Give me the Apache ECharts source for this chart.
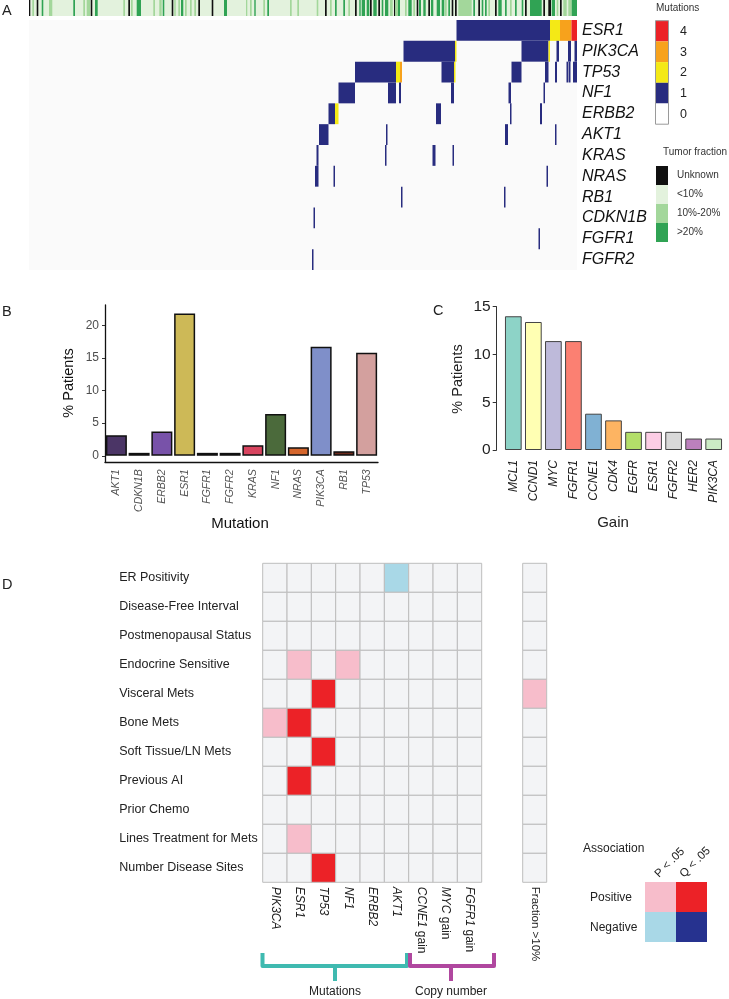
<!DOCTYPE html>
<html><head><meta charset="utf-8">
<script src="https://cdn.jsdelivr.net/npm/echarts/dist/echarts.min.js"></script>
<style>html,body{margin:0;padding:0;background:#fff}#c{width:729px;height:999px}</style>
</head><body><div id="c"></div><script>
// ---------- DATA ----------
// Panel A: oncoprint (column positions across the ordered patient strip, 0..548)
const oncoGenes = ['ESR1','PIK3CA','TP53','NF1','ERBB2','AKT1','KRAS','NRAS','RB1','CDKN1B','FGFR1','FGFR2'];
const colSpan = 548;
// [start, end, number of mutations]
const segESR1   = [[427.5,521,1],[521,531,2],[531,542.5,3],[542.5,548,4]];
const segPIK3CA = [[374.5,426,1],[426,427.5,2],[492.5,519.5,1],[519.5,521,2],[527.5,530,1],[539,542,1],[545.5,548,1]];
const segTP53   = [[326,367,1],[367,371,2],[371,373,3],[412.5,425,1],[425,426.5,2],[482.5,492.5,1],[516,519.5,1],[526,528,1],[537.5,539.5,1],[540,541.5,1],[544,548,1]];
const segNF1    = [[309.5,326,1],[359,367,1],[370,372,1],[422,425,1],[479.5,482,1],[514.5,516,1]];
const segERBB2  = [[299.5,306,1],[306,309.5,2],[407,412,1],[481,482.5,1],[511,513,1]];
const segAKT1   = [[290,299.5,1],[357,358.5,1],[476,479,1],[526,527.5,1]];
const segKRAS   = [[287.5,289.5,1],[356,357.5,1],[403.5,406.5,1],[423.5,425,1]];
const segNRAS   = [[286,289.5,1],[304.5,306,1],[517.5,519,1]];
const segRB1    = [[372,373.5,1],[475,476.5,1]];
const segCDKN1B = [[284.5,286,1]];
const segFGFR1  = [[509.5,511,1]];
const segFGFR2  = [[283,284.5,1]];
const oncoSegs = [segESR1,segPIK3CA,segTP53,segNF1,segERBB2,segAKT1,segKRAS,segNRAS,segRB1,segCDKN1B,segFGFR1,segFGFR2];
const mutLegend = ['4','3','2','1','0'];

// tumour fraction strip (background = <10%)
const tfUnknown = [[0,1.3],[7.7,9.3],[61.7,63.3],[99.3,101],[142.7,144.3],[169.3,171],[182.7,184.3],[296,297.7],[326,327.7],[341,342.7],[349.3,351],[365,366.3],[387.7,389.3],[399.3,401],[422.7,424.3],[426,427.7],[449.3,451],[466,467.7],[496,497.7],[514.3,516],[519.3,522],[531,532.7]];
const tfMid = [[3.3,5],[20,23.3],[54.3,56],[57.7,61],[94.3,96],[102,103.7],[124.3,126],[130.3,132.7],[145.3,146.7],[149.3,151],[156,157.7],[161,162.7],[165.3,167],[217,218.3],[221,222.7],[234.3,236],[261,262.7],[268.3,270],[287.7,289.3],[301,302.7],[319.3,321],[361,363.7],[366.3,369],[376,377.7],[384.3,386],[416,417.7],[429.3,442.7],[459.3,461],[481,482.7],[527.7,529.3],[534.3,537.7],[539.3,542.7]];
const tfHigh = [[12.7,14.3],[44.3,46],[66,68.7],[107.7,112],[133.7,135.3],[152,154.3],[195,198],[225.3,226.7],[238.3,240],[306,307.7],[314.3,316],[330.3,331.7],[332.7,336],[337.7,340.3],[344.3,347.7],[352.7,354.3],[356,359.3],[369,371],[379.3,382.7],[390,392],[394.3,396.7],[402,404.3],[407.7,411],[412.7,415.3],[419.3,421],[444.3,446],[452.7,454.3],[456,457.7],[469.3,472.7],[476,477.7],[486,487.7],[492.7,494.3],[501,512.7],[522.7,526],[542.7,548]];
const tfLegend = ['Unknown','<10%','10%-20%','>20%'];

// Panel B
const mutGenes = ['AKT1','CDKN1B','ERBB2','ESR1','FGFR1','FGFR2','KRAS','NF1','NRAS','PIK3CA','RB1','TP53'];
const mutPct   = [3.15,0.45,3.7,21.8,0.45,0.45,1.6,6.4,1.3,16.7,0.7,15.8];
const mutTicks = [0,5,10,15,20];

// Panel C
const gainGenes = ['MCL1','CCND1','MYC','FGFR1','CCNE1','CDK4','EGFR','ESR1','FGFR2','HER2','PIK3CA'];
const gainPct   = [14.0,13.4,11.4,11.4,3.8,3.1,1.9,1.9,1.9,1.2,1.2];

// Panel D  (0 none, 1 positive P<.05, 2 positive Q<.05, -1 negative P<.05, -2 negative Q<.05)
const clinVars = ['ER Positivity','Disease-Free Interval','Postmenopausal Status','Endocrine Sensitive','Visceral Mets','Bone Mets','Soft Tissue/LN Mets','Previous AI','Prior Chemo','Lines Treatment for Mets','Number Disease Sites'];
const assocCols = ['PIK3CA','ESR1','TP53','NF1','ERBB2','AKT1','CCNE1 gain','MYC gain','FGFR1 gain'];
const assocRows = [
  [0,0,0,0,0,-1,0,0,0],
  [0,0,0,0,0,0,0,0,0],
  [0,0,0,0,0,0,0,0,0],
  [0,1,0,1,0,0,0,0,0],
  [0,0,2,0,0,0,0,0,0],
  [1,2,0,0,0,0,0,0,0],
  [0,0,2,0,0,0,0,0,0],
  [0,2,0,0,0,0,0,0,0],
  [0,0,0,0,0,0,0,0,0],
  [0,1,0,0,0,0,0,0,0],
  [0,0,2,0,0,0,0,0,0]
];
const fracCol = ['Fraction >10%'];
const fracAssoc = [0,0,0,0,1,0,0,0,0,0,0];

// ---------- STYLE ----------
const FONT = "'Liberation Sans', Arial, sans-serif";
const mutColors = {0:'#fafafa',1:'#282c7f',2:'#f4e916',3:'#f7a21c',4:'#ec2227'};
const tfColors = {0:'#101010',1:'#e3f2dd',2:'#a3d79b',3:'#30a354'};
const mutBarColors = ['#4b3566','#4f7f3a','#7852a9','#cdb957','#8c2a7c','#3b8a7b','#d8445f','#4b6a3b','#d5662c','#7f8fc9','#6b2a1c','#d3a09e'];
const gainBarColors = ['#8dd3c7','#ffffb3','#bebada','#fb8072','#80b1d3','#fdb462','#b3de69','#fccde5','#d9d9d9','#bc80bd','#ccebc5'];
const assocColors = {0:'#f3f4f6',1:'#f7bdcb',2:'#ec2227','-1':'#a9d8e7','-2':'#26328f'};

// ---------- BUILD ----------
const oncoData = [];
oncoSegs.forEach((segs, gi) => segs.forEach(s => oncoData.push([s[0], s[1], gi, s[2]])));
const tfData = [];
tfUnknown.forEach(s => tfData.push([s[0], s[1], 0, 0]));
tfMid.forEach(s => tfData.push([s[0], s[1], 0, 2]));
tfHigh.forEach(s => tfData.push([s[0], s[1], 0, 3]));
const assocData = [];
assocRows.forEach((row, ri) => row.forEach((v, ci) => assocData.push([ci, ri, v])));
const fracData = fracAssoc.map((v, ri) => [0, ri, v]);

function segRender(colorMap) {
  return function (params, api) {
    const yv = api.value(2);
    const a = api.coord([api.value(0), yv]);
    const b = api.coord([api.value(1), yv]);
    const h = api.size([0, 1])[1];
    return {type:'rect', shape:{x:a[0], y:a[1]-h/2, width:b[0]-a[0], height:h},
      style:{fill: colorMap[api.value(3)]}};
  };
}
function cellRender(params, api) {
  const c = api.coord([api.value(0), api.value(1)]);
  const s = api.size([1, 1]);
  return {type:'rect', shape:{x:c[0]-s[0]/2, y:c[1]-s[1]/2, width:s[0], height:s[1]},
    style:{fill: assocColors[api.value(2)], stroke:'#bdbdbd', lineWidth:1}};
}
function geneFmt(v) {
  const p = v.split(' ');
  return p.length > 1 ? '{i|' + p[0] + '} ' + p.slice(1).join(' ') : '{i|' + v + '}';
}

const hiddenVal = (gi) => ({type:'value', gridIndex:gi, min:0, max:colSpan, show:false});
const grids = [
  {left:29, top:20, width:548, height:250, show:true, backgroundColor:'#fafafa', borderWidth:0},
  {left:29, top:0, width:548, height:16, show:true, backgroundColor:tfColors[1], borderWidth:0},
  {left:105, top:305, width:273, height:157.3},
  {left:503.3, top:306.7, width:220.4, height:143.3},
  {left:262.7, top:563.3, width:219, height:319},
  {left:522.7, top:563.3, width:24, height:319}
].map(g => Object.assign({outerBoundsMode:'none', containLabel:false}, g));

// graphics
const gfx = [];
function txt(x, y, text, opt) {
  opt = opt || {};
  const align = opt.align || 'left', va = opt.va || 'middle';
  gfx.push({type:'text', x:x, y:y, rotation:opt.rot || 0, z:10,
    style:{text:text, fill:opt.color || '#222', font:(opt.style||'normal') + ' ' + (opt.size||13) + 'px ' + FONT,
      align:align, textAlign:align, verticalAlign:va, textVerticalAlign:va}});
}
function box(x, y, w, h, fill, stroke) {
  gfx.push({type:'rect', shape:{x:x, y:y, width:w, height:h}, z:10,
    style:{fill:fill, stroke:stroke || null, lineWidth:stroke ? 1 : 0}});
}
// panel letters
txt(2, 11, 'A', {size:14.5});
txt(2, 312, 'B', {size:14.5});
txt(433, 311, 'C', {size:14.5});
txt(2, 585, 'D', {size:14.5});
// A legends
txt(656, 8, 'Mutations', {size:10, color:'#333'});
const mutKeys = [4,3,2,1,0];
mutKeys.forEach((k, i) => {
  box(655.5, 20.7 + i*20.7, 13, 20.7, mutColors[k] === '#fafafa' ? '#ffffff' : mutColors[k], null);
  txt(680, 31.5 + i*20.7, mutLegend[i], {size:12.5, color:'#222'});
});
gfx.push({type:'rect', shape:{x:655.5, y:20.7, width:13, height:103.5}, z:11, style:{fill:null, stroke:'#9a9a9a', lineWidth:1}});
txt(663, 152, 'Tumor fraction', {size:10, color:'#333'});
const tfKeys = [0,1,2,3];
tfKeys.forEach((k, i) => {
  box(656, 166 + i*19, 12, 19, tfColors[k]);
  txt(677, 175.5 + i*19, tfLegend[i], {size:10, color:'#333'});
});
// axis titles
txt(69, 383, '% Patients', {size:14.5, color:'#111', align:'center', rot:Math.PI/2});
txt(240, 524, 'Mutation', {size:15, color:'#111', align:'center'});
txt(458, 379, '% Patients', {size:14.5, color:'#222', align:'center', rot:Math.PI/2});
txt(613, 523, 'Gain', {size:15, color:'#222', align:'center'});
// D brackets
gfx.push({type:'polyline', z:10, shape:{points:[[262.5,953],[262.5,966],[407,966],[407,953]]}, style:{fill:null, stroke:'#3fbab0', lineWidth:4, lineJoin:'round'}});
gfx.push({type:'line', z:10, shape:{x1:335, y1:966, x2:335, y2:981}, style:{stroke:'#3fbab0', lineWidth:4}});
gfx.push({type:'polyline', z:10, shape:{points:[[410,953],[410,966],[494,966],[494,953]]}, style:{fill:null, stroke:'#b0479f', lineWidth:4, lineJoin:'round'}});
gfx.push({type:'line', z:10, shape:{x1:451, y1:966, x2:451, y2:981}, style:{stroke:'#b0479f', lineWidth:4}});
txt(335, 992, 'Mutations', {size:12, align:'center'});
txt(451, 992, 'Copy number', {size:12, align:'center'});
// D legend
txt(583, 849, 'Association', {size:12});
txt(661, 880, 'P < .05', {size:11.5, rot:Math.PI/4, va:'bottom'});
txt(686, 880, 'Q < .05', {size:11.5, rot:Math.PI/4, va:'bottom'});
box(645, 882, 31, 30, assocColors[1]);
box(676, 882, 31, 30, assocColors[2]);
box(645, 912, 31, 30, assocColors[-1]);
box(676, 912, 31, 30, assocColors[-2]);
txt(590, 898, 'Positive', {size:12});
txt(590, 928, 'Negative', {size:12});

const option = {
  animation:false,
  backgroundColor:'#ffffff',
  textStyle:{fontFamily:FONT},
  grid: grids,
  xAxis: [
    hiddenVal(0), hiddenVal(1),
    {type:'category', gridIndex:2, data:mutGenes,
      axisLine:{onZero:false, lineStyle:{color:'#111', width:1.3}}, axisTick:{show:false},
      axisLabel:{interval:0, rotate:90, margin:7, fontSize:10.5, fontStyle:'italic', color:'#555'}},
    {type:'category', gridIndex:3, data:gainGenes,
      axisLine:{show:false}, axisTick:{show:false},
      axisLabel:{interval:0, rotate:90, margin:10, fontSize:12, fontStyle:'italic', color:'#222'}},
    {type:'category', gridIndex:4, data:assocCols, axisLine:{show:false}, axisTick:{show:false},
      axisLabel:{interval:0, rotate:-90, margin:4.5, fontSize:12, color:'#222', formatter:geneFmt,
        rich:{i:{fontStyle:'italic', fontSize:12, color:'#222'}}}},
    {type:'category', gridIndex:5, data:fracCol, axisLine:{show:false}, axisTick:{show:false},
      axisLabel:{interval:0, rotate:-90, margin:4.5, fontSize:11.5, color:'#222'}}
  ],
  yAxis: [
    {type:'category', gridIndex:0, data:oncoGenes, inverse:true, position:'right',
      axisLine:{show:false}, axisTick:{show:false},
      axisLabel:{margin:5, fontSize:16, fontStyle:'italic', color:'#111'}},
    {type:'category', gridIndex:1, data:['TF'], show:false},
    {type:'value', gridIndex:2, min:-1, max:23.1, splitLine:{show:false},
      axisLine:{show:true, lineStyle:{color:'#111', width:1.3}},
      axisTick:{show:true, length:3, customValues:mutTicks, lineStyle:{color:'#333'}},
      axisLabel:{customValues:mutTicks, fontSize:12, color:'#4d4d4d', margin:6}},
    {type:'value', gridIndex:3, min:0, max:15, interval:5, offset:6.6, splitLine:{show:false},
      axisLine:{show:true, lineStyle:{color:'#333', width:1}},
      axisTick:{show:true, length:4, lineStyle:{color:'#333'}},
      axisLabel:{fontSize:15.5, color:'#222', margin:6}},
    {type:'category', gridIndex:4, data:clinVars, inverse:true,
      axisLine:{show:false}, axisTick:{show:false},
      axisLabel:{align:'left', margin:143.5, fontSize:12.5, color:'#222'}},
    {type:'category', gridIndex:5, data:clinVars, inverse:true, show:false}
  ],
  graphic: {elements: gfx},
  series: [
    {type:'custom', xAxisIndex:0, yAxisIndex:0, renderItem:segRender(mutColors), data:oncoData,
      encode:{x:[0,1], y:2}, clip:true},
    {type:'custom', xAxisIndex:1, yAxisIndex:1, renderItem:segRender(tfColors), data:tfData,
      encode:{x:[0,1], y:2}, clip:true},
    {type:'bar', xAxisIndex:2, yAxisIndex:2, barWidth:21,
      data: mutPct.map((v, i) => ({value:v, itemStyle:{color:mutBarColors[i], borderColor:'#111', borderWidth:1.5}}))},
    {type:'bar', xAxisIndex:3, yAxisIndex:3, barWidth:16.7,
      data: gainPct.map((v, i) => ({value:v, itemStyle:{color:gainBarColors[i], borderColor:'#444', borderWidth:1}}))},
    {type:'custom', xAxisIndex:4, yAxisIndex:4, renderItem:cellRender, data:assocData, encode:{x:0, y:1}},
    {type:'custom', xAxisIndex:5, yAxisIndex:5, renderItem:cellRender, data:fracData, encode:{x:0, y:1}}
  ]
};
const chart = echarts.init(document.getElementById('c'), null, {renderer:'canvas'});
chart.setOption(option);
</script></body></html>
